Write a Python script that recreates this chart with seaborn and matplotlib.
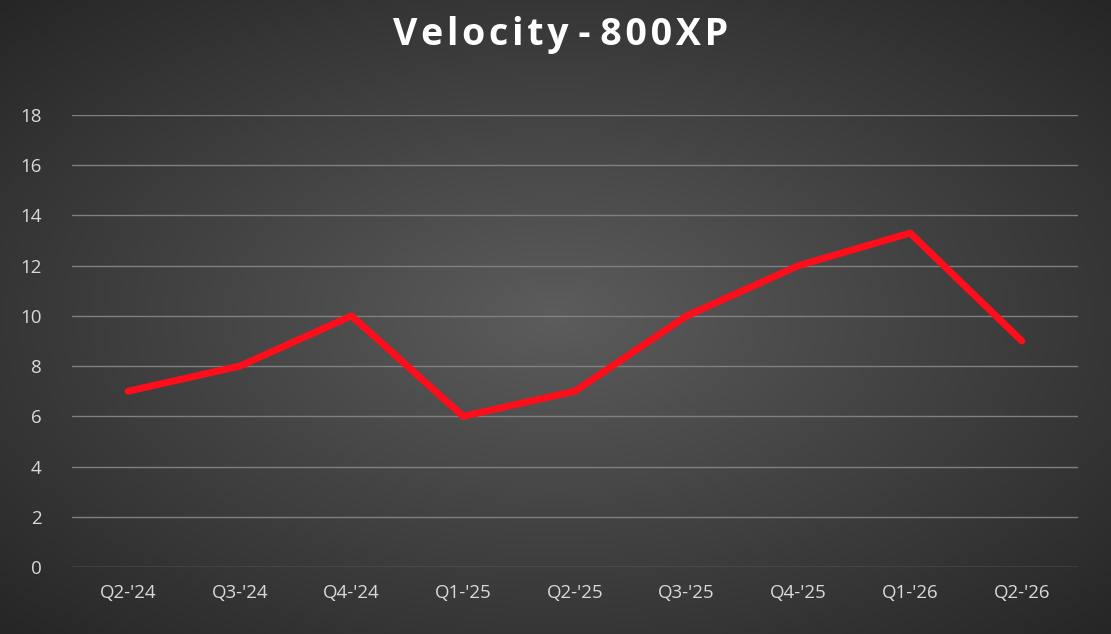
import matplotlib
matplotlib.use("Agg")
import matplotlib.pyplot as plt
import seaborn as sns
import numpy as np
import pandas as pd

quarters = ["Q2-'24", "Q3-'24", "Q4-'24", "Q1-'25", "Q2-'25", "Q3-'25", "Q4-'25", "Q1-'26", "Q2-'26"]
velocity = [7, 8, 10, 6, 7, 10, 12, 13.3, 9]

sns.set_style("white")
plt.rcParams['font.family'] = ['Open Sans', 'DejaVu Sans']

fig = plt.figure(figsize=(11.11, 6.34), dpi=100)

# radial gradient background
bg = fig.add_axes([0, 0, 1, 1], zorder=0)
yy, xx = np.mgrid[-1:1:300j, -1:1:500j]
r = np.sqrt(xx**2 + yy**2) / np.sqrt(2)
bg.imshow(r, cmap=matplotlib.colors.LinearSegmentedColormap.from_list("g", ["#5c5c5c", "#262626"]),
          aspect="auto", extent=[0, 1, 0, 1], vmin=0, vmax=1)
bg.axis("off")

ax = fig.add_axes([0.065, 0.1057, 0.905, 0.7129], zorder=1)
ax.set_facecolor("none")
df = pd.DataFrame({"quarter": quarters, "velocity": velocity})
sns.lineplot(data=df, x="quarter", y="velocity", ax=ax, color="#ff0d1a", linewidth=5, sort=False)

ax.set_xlim(-0.5, len(quarters) - 0.5)
ax.set_ylim(0, 18)
ax.set_yticks(range(0, 19, 2))
ax.grid(axis="y", color="#808080", linewidth=1)
ax.set_axisbelow(True)
for s in ax.spines.values():
    s.set_visible(False)
ax.tick_params(colors="#d9d9d9", labelsize=13.5, length=0)
ax.tick_params(axis="y", pad=22)
ax.tick_params(axis="x", pad=12)
ax.set_xlabel("")
ax.set_ylabel("")

fig.text(0.505, 0.945, "V e l o c i t y  -  8 0 0 X P".replace(" ", "\u200a").replace("\u200a\u200a", " "),
         ha="center", va="center", color="white", fontsize=27, fontweight="bold")

fig.savefig("out.png", dpi=100)
